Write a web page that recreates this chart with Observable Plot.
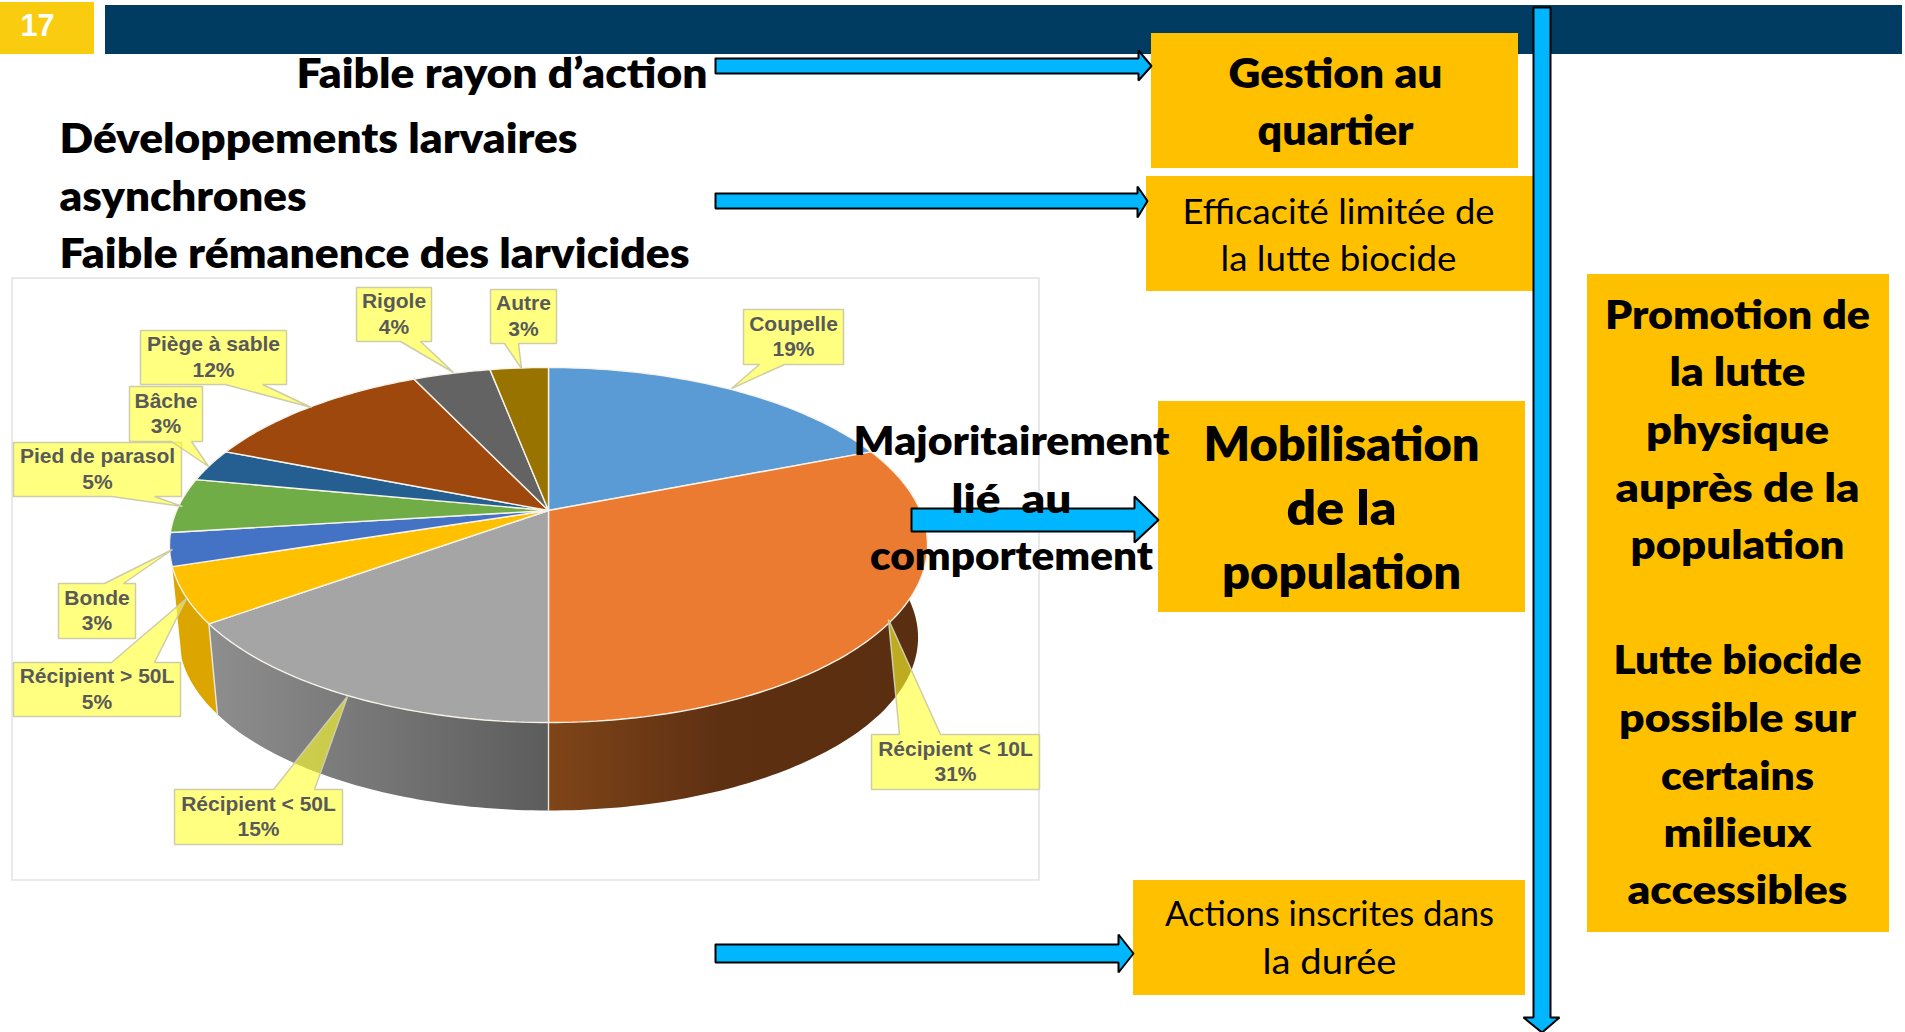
<!DOCTYPE html>
<html lang="fr">
<head>
<meta charset="utf-8">
<title>Gîtes larvaires</title>
<script src="https://cdn.jsdelivr.net/npm/d3@7"></script>
<script src="https://cdn.jsdelivr.net/npm/@observablehq/plot@0.6"></script>
<style>
html,body{margin:0;padding:0;background:#fff;overflow:hidden}
svg{display:block}
</style>
</head>
<body>
<div id="chart"></div>
<script>
// ---- Chart values
const categories = ["Coupelle","Récipient < 10L","Récipient < 50L","Récipient > 50L","Bonde","Pied de parasol","Bâche","Piège à sable","Rigole","Autre"];
const shares = [19,31,15,5,3,5,3,12,4,3];
const sliceColors = ["#5B9BD5","#EA7B30","#A5A5A5","#FFC000","#4472C4","#70AD47","#255E91","#9E480E","#636363","#997300"];
const wallFills = {"Récipient < 10L":"url(#wallOrange)","Récipient < 50L":"url(#wallGray)","Récipient > 50L":"#DCA500"};

// ---- Slide layout (not data)
const W = 1905, H = 1032;
const sans = "Lato, 'Noto Sans', sans-serif", arial = "'Liberation Sans', Arial, sans-serif";
const panels = [
  {x1:0,x2:94,y1:2,y2:54,fill:"#F9CC10"},
  {x1:105,x2:1902,y1:5,y2:54,fill:"#003C61"},
  {x1:1151,x2:1518,y1:33,y2:168,fill:"#FFC000"},
  {x1:1146,x2:1533,y1:176,y2:291,fill:"#FFC000"},
  {x1:1158,x2:1525,y1:401,y2:612,fill:"#FFC000"},
  {x1:1133,x2:1525,y1:880,y2:995,fill:"#FFC000"},
  {x1:1587,x2:1889,y1:274,y2:932,fill:"#FFC000"}
];
const hArrows = [
  {x0:715,xh:1138,tip:1151,y0:58,y1:73,h0:50,h1:80},
  {x0:715,xh:1137,tip:1147,y0:193,y1:208,h0:186,h1:217},
  {x0:911,xh:1134,tip:1158,y0:508,y1:531,h0:496,h1:542},
  {x0:715,xh:1118,tip:1133,y0:944,y1:962,h0:934,h1:972}
];
const vArrow = {y0:7,yh:1017,tip:1032,x0:1533,x1:1550,h0:1523,h1:1559};
const calloutBoxes = {
  "Coupelle":{x1:743,x2:843,y1:309,y2:364,b0:759,b1:784,tx:731,ty:388,side:"bottom"},
  "Récipient < 10L":{x1:871,x2:1039,y1:734,y2:789,b0:899,b1:940,tx:888,ty:619,side:"top"},
  "Récipient < 50L":{x1:174,x2:342,y1:789,y2:844,b0:273,b1:314,tx:347,ty:696,side:"top"},
  "Récipient > 50L":{x1:13,x2:180,y1:662,y2:716,b0:111,b1:154,tx:186,ty:598,side:"top"},
  "Bonde":{x1:58,x2:135,y1:583,y2:638,b0:104,b1:123,tx:172,ty:549,side:"top"},
  "Pied de parasol":{x1:13,x2:181,y1:442,y2:496,b0:111,b1:154,tx:182,ty:506,side:"bottom"},
  "Piège à sable":{x1:140,x2:286,y1:330,y2:384,b0:225,b1:262,tx:311,ty:407,side:"bottom"},
  "Bâche":{x1:129,x2:202,y1:386,y2:441,b0:171,b1:191,tx:208,ty:466,side:"bottom"},
  "Rigole":{x1:356,x2:431,y1:287,y2:341,b0:400,b1:420,tx:453,ty:372,side:"bottom"},
  "Autre":{x1:490,x2:556,y1:289,y2:343,b0:504,b1:518,tx:521,ty:368,side:"bottom"}
};
const T = (text,x,base,size,width,anchor="middle",weight=800,family=sans,fill="#000") => ({text,x,base,size,width,anchor,weight,family,fill});
const slideTexts = [
  T("17",37,35,32,34,"middle",700,arial,"#fff"),
  T("Faible rayon d’action",296,87,41,411,"start"),
  T("Développements larvaires",59,152,41,518,"start"),
  T("asynchrones",59,210,41,247,"start"),
  T("Faible rémanence des larvicides",59,267,41,630,"start"),
  T("Gestion au",1335,87,42,214),
  T("quartier",1335,144,42,156),
  T("Efficacité limitée de",1338,223,34,312,"middle",400),
  T("la lutte biocide",1338,270,34,236,"middle",400),
  T("Mobilisation",1341,460,47,276),
  T("de la",1341,524,47,110),
  T("population",1341,588,47,239),
  T("Actions inscrites dans",1329,925,34,329,"middle",400),
  T("la durée",1329,973,34,134,"middle",400),
  T("Promotion de",1737,328,40,265),
  T("la lutte",1737,385,40,136),
  T("physique",1737,443,40,183),
  T("auprès de la",1737,501,40,244),
  T("population",1737,558,40,214),
  T("Lutte biocide",1737,673,40,248),
  T("possible sur",1737,731,40,237),
  T("certains",1737,789,40,153),
  T("milieux",1737,846,40,148),
  T("accessibles",1737,903,40,220),
  T("Majoritairement",1011,454,40,316),
  T("lié  au",1011,512,40,120),
  T("comportement",1011,569,40,283)
];

// ---- Perspective pie geometry, all slices follow from the shares
const pie = {cx:548,cy:510,a:371.8,c:170.8,b:0.1944,lowScale:0.975,lowCy:603.3};
function top3d(deg){
  const t = deg*Math.PI/180, X = Math.sin(t), Y = -Math.cos(t), d = 1-pie.b*Y;
  return [pie.a*X/d, pie.c*Y/d];
}
const topPt = d => { const [u,v] = top3d(d); return {x:pie.cx+u, y:pie.cy+v}; };
const lowPt = d => { const [u,v] = top3d(d); return {x:pie.cx+u*pie.lowScale, y:pie.lowCy+v*pie.lowScale}; };
const total = d3.sum(shares);
const angles = d3.cumsum(shares).map(c => c/total*360);
const slices = categories.map((name,i) => ({name,share:shares[i],color:sliceColors[i],start:i?angles[i-1]:0,end:angles[i]}));
const arc = (s,fn) => { const n = Math.max(2,Math.ceil(s.end-s.start)); return d3.range(n+1).map(k => fn(s.start+(s.end-s.start)*k/n)); };
const facePts = s => { const p = [{x:pie.cx,y:pie.cy},...arc(s,topPt)]; p.push(p[0]); return p; };
const wallPts = s => { const p = [...arc(s,topPt),...arc(s,lowPt).reverse()]; p.push(p[0]); return p; };
const calloutPts = b => {
  const base = b.side==="bottom"
    ? [{x:b.x1,y:b.y1},{x:b.x2,y:b.y1},{x:b.x2,y:b.y2},{x:b.b1,y:b.y2},{x:b.tx,y:b.ty},{x:b.b0,y:b.y2},{x:b.x1,y:b.y2}]
    : [{x:b.x1,y:b.y1},{x:b.b0,y:b.y1},{x:b.tx,y:b.ty},{x:b.b1,y:b.y1},{x:b.x2,y:b.y1},{x:b.x2,y:b.y2},{x:b.x1,y:b.y2}];
  base.push(base[0]); return base;
};
const hArrowPts = a => [{x:a.x0,y:a.y0},{x:a.xh,y:a.y0},{x:a.xh,y:a.h0},{x:a.tip,y:(a.y0+a.y1)/2},{x:a.xh,y:a.h1},{x:a.xh,y:a.y1},{x:a.x0,y:a.y1},{x:a.x0,y:a.y0}];
const vArrowPts = a => [{x:a.x0,y:a.y0},{x:a.x1,y:a.y0},{x:a.x1,y:a.yh},{x:a.h1,y:a.yh},{x:(a.x0+a.x1)/2,y:a.tip},{x:a.h0,y:a.yh},{x:a.x0,y:a.yh},{x:a.x0,y:a.y0}];

const poly = (pts,o) => Plot.line(pts,{x:"x",y:"y",curve:"linear",strokeLinejoin:"miter",...o});
function gradient(defs,id,stops){
  const g = defs.append("linearGradient").attr("id",id).attr("x1",0).attr("x2",1).attr("y1",0).attr("y2",0);
  stops.forEach(([o,c]) => g.append("stop").attr("offset",o).attr("stop-color",c));
}
const defsMark = () => {
  const s = d3.create("svg:g"), defs = s.append("defs");
  gradient(defs,"wallOrange",[[0,"#7F4518"],[0.45,"#5E3012"],[1,"#5A2E10"]]);
  gradient(defs,"wallGray",[[0,"#8E8E8E"],[0.55,"#737373"],[1,"#5C5C5C"]]);
  return s.node();
};
const fittedText = t => Plot.text([t],{
  x:"x", y:d => d.base-0.32*d.size, text:"text", textAnchor:t.anchor, fontSize:t.size, fontWeight:t.weight,
  fontFamily:t.family, fill:t.fill,
  render(index,scales,values,dims,ctx,next){
    const g = next(index,scales,values,dims,ctx);
    d3.select(g).selectAll("text").attr("textLength",t.width).attr("lengthAdjust","spacingAndGlyphs");
    return g;
  }
});

const frontSlices = slices.filter(s => wallFills[s.name]);
const splitAngles = [frontSlices[0].end, frontSlices[1].end];
const dividers = splitAngles.map(a => ({p:topPt(a),q:lowPt(a)}));
const calloutOrder = ["Coupelle","Récipient < 10L","Récipient < 50L","Pied de parasol","Récipient > 50L","Bonde","Piège à sable","Bâche","Rigole","Autre"];

const plot = Plot.plot({
  width:W, height:H, margin:0,
  x:{domain:[0,W],range:[0,W],axis:null},
  y:{domain:[0,H],range:[0,H],axis:null},
  style:{background:"#fff"},
  marks:[
    defsMark,
    Plot.rect(panels.slice(0,2),{x1:"x1",x2:"x2",y1:"y1",y2:"y2",fill:"fill"}),
    Plot.rect([{x1:12,x2:1039,y1:278,y2:880}],{x1:"x1",x2:"x2",y1:"y1",y2:"y2",fill:"#fff",stroke:"#E2E2E2",strokeWidth:1.5}),
    ...frontSlices.map(s => poly(wallPts(s),{fill:wallFills[s.name],stroke:"none"})),
    Plot.link(dividers,{x1:d=>d.p.x,y1:d=>d.p.y,x2:d=>d.q.x,y2:d=>d.q.y,stroke:"#E8E8E0",strokeWidth:1.4}),
    ...slices.map(s => poly(facePts(s),{fill:s.color,stroke:"#F7F3E8",strokeWidth:1.4})),
    ...calloutOrder.map(n => poly(calloutPts(calloutBoxes[n]),{fill:"#FFFF2B",fillOpacity:0.6,stroke:"#CFCDA6",strokeWidth:1.5})),
    Plot.text(calloutOrder.map(n => { const s = slices.find(d => d.name===n), b = calloutBoxes[n]; return {x:(b.x1+b.x2)/2,y:(b.y1+b.y2)/2-1.5,label:`${n}\n${s.share}%`}; }),
      {x:"x",y:"y",text:"label",fontFamily:arial,fontWeight:700,fontSize:21,lineHeight:1.2,fill:"#595959"}),
    Plot.rect(panels.slice(2),{x1:"x1",x2:"x2",y1:"y1",y2:"y2",fill:"fill"}),
    ...hArrows.map(a => poly(hArrowPts(a),{fill:"#00B7FF",stroke:"#000",strokeWidth:2})),
    poly(vArrowPts(vArrow),{fill:"#00B7FF",stroke:"#000",strokeWidth:2}),
    ...slideTexts.map(fittedText)
  ]
});
document.getElementById("chart").append(plot);
</script>
</body>
</html>
